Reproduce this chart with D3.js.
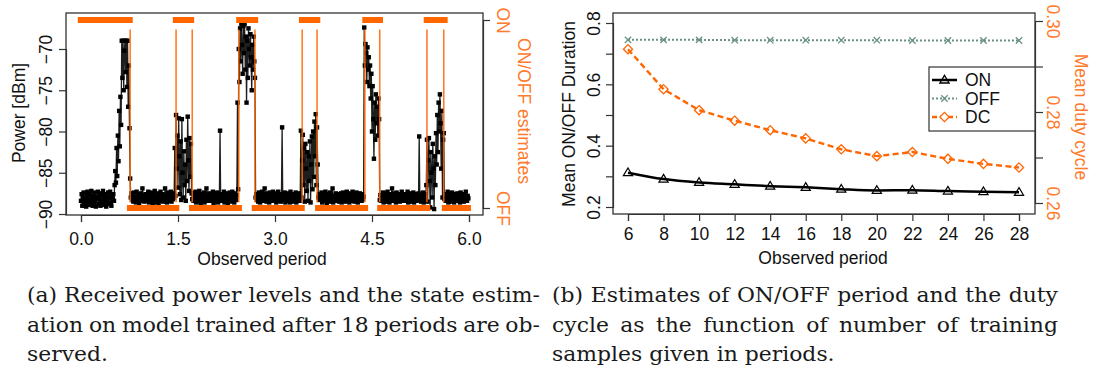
<!DOCTYPE html>
<html>
<head>
<meta charset="utf-8">
<script src="https://cdn.jsdelivr.net/npm/d3@7"></script>
<style>
  body { margin: 0; background: #fff; }
  svg { display: block; }
  text { font-family: "Liberation Sans", Arial, Helvetica, sans-serif; }
</style>
</head>
<body>
<svg id="fig" width="1095" height="370"></svg>
<script>
// ---------------- panel (a): received power trace ----------------
const sampleStep = 0.01;            // observed periods between power samples
const power = [
  -88.4,-87.6,-89.0,-88.1,-87.4,-88.8,-88.3,-87.5,-89.1,-88.0,
  -87.3,-88.7,-88.2,-87.6,-88.9,-88.5,-87.2,-88.1,-89.0,-87.8,
  -88.6,-87.4,-88.3,-89.1,-87.9,-88.2,-87.3,-88.8,-88.0,-87.5,
  -89.0,-88.4,-87.7,-88.6,-87.2,-88.9,-88.1,-87.6,-88.5,-89.1,
  -87.9,-88.3,-87.4,-88.8,-88.0,-87.3,-88.7,-89.0,-87.8,-88.2,

  -87.6,-88.4,-86.5,-84.8,-86.2,-82.0,-85.4,-80.5,-83.6,-77.5,
  -81.8,-75.8,-79.2,-69.0,-73.5,-69.0,-75.0,-70.2,-69.0,-72.8,
  -69.0,-74.6,-69.0,-77.0,-72.0,-79.6,-85.7,-88.0,-87.5,-88.3,
  -87.8,-88.5,-87.4,-88.1,-87.9,-88.6,-87.3,-88.2,-88.0,-87.6,
  -88.7,-87.9,-88.3,-87.5,-88.4,-86.9,-88.1,-87.7,-88.5,-88.0,

  -87.6,-88.4,-87.9,-88.2,-87.3,-88.6,-88.0,-87.7,-88.5,-87.4,
  -88.1,-88.8,-87.6,-88.3,-87.2,-88.0,-88.6,-87.8,-88.2,-87.5,
  -88.7,-87.9,-88.1,-87.3,-88.4,-88.0,-87.6,-88.5,-87.9,-88.2,
  -86.9,-88.3,-87.7,-88.6,-87.4,-88.1,-88.4,-87.6,-88.0,-87.3,
  -88.5,-87.8,-88.2,-87.5,-88.0,-82.0,-87.8,-78.0,-84.5,-80.5,

  -86.8,-78.4,-83.0,-87.6,-81.2,-88.3,-78.5,-85.0,-88.0,-82.4,
  -86.5,-84.0,-88.4,-81.0,-86.0,-78.2,-83.5,-87.2,-80.8,-85.5,
  -81.5,-87.5,-88.2,-87.5,-88.4,-87.9,-88.1,-87.3,-88.6,-87.8,
  -88.2,-87.6,-88.5,-87.2,-88.0,-88.7,-87.6,-88.3,-87.9,-88.1,
  -87.4,-88.6,-87.8,-88.2,-86.9,-88.4,-87.7,-88.0,-87.5,-88.3,

  -87.9,-88.4,-87.6,-88.2,-87.3,-88.7,-88.0,-87.5,-88.5,-87.8,
  -88.1,-87.4,-88.6,-88.0,-87.7,-79.9,-88.2,-87.6,-88.4,-87.9,
  -88.1,-87.3,-88.6,-87.8,-88.3,-87.5,-88.0,-88.7,-87.6,-88.2,
  -87.4,-88.5,-87.9,-88.1,-87.3,-88.4,-87.8,-88.6,-87.5,-88.0,
  -88.3,-87.7,-76.5,-87.0,-70.0,-74.0,-67.5,-71.5,-67.0,-69.5,

  -73.0,-67.2,-70.5,-67.0,-72.5,-68.5,-76.5,-69.0,-73.5,-67.5,
  -70.0,-72.0,-68.2,-71.0,-75.0,-69.5,-72.5,-68.5,-71.5,-73.5,
  -88.0,-87.6,-88.3,-87.9,-88.5,-87.4,-88.1,-88.6,-87.7,-88.2,
  -87.3,-88.0,-88.4,-87.6,-86.9,-88.3,-87.8,-88.5,-87.5,-88.1,
  -87.9,-88.6,-87.4,-88.2,-87.7,-88.0,-88.4,-87.3,-88.1,-87.8,

  -88.2,-87.5,-88.6,-87.9,-88.1,-87.3,-88.4,-87.7,-88.0,-88.5,
  -87.6,-79.5,-88.3,-87.8,-88.1,-87.4,-88.6,-87.9,-88.2,-87.5,
  -88.4,-87.7,-88.0,-88.6,-87.3,-88.2,-87.8,-88.5,-87.6,-88.1,
  -87.9,-88.3,-87.4,-88.6,-87.7,-88.0,-88.2,-87.5,-88.4,-87.9,
  -79.9,-88.0,-83.5,-80.4,-86.5,-82.0,-88.5,-81.5,-84.5,-87.2,

  -82.5,-88.4,-83.0,-86.0,-81.2,-88.6,-84.0,-80.6,-87.0,-80.0,
  -85.5,-78.8,-83.0,-77.9,-86.5,-79.5,-84.0,-88.0,-87.6,-88.3,
  -87.9,-88.1,-87.4,-88.6,-87.8,-88.2,-87.5,-88.4,-87.3,-88.0,
  -88.7,-87.6,-88.2,-87.9,-88.5,-87.4,-88.1,-87.7,-88.3,-86.9,
  -88.6,-87.8,-88.0,-88.4,-87.5,-88.2,-87.9,-88.1,-87.6,-88.5,

  -87.8,-88.3,-87.5,-88.6,-88.0,-87.4,-88.2,-87.9,-88.5,-87.6,
  -88.1,-87.3,-88.4,-87.8,-88.0,-88.6,-87.5,-88.2,-87.7,-88.4,
  -87.3,-88.1,-87.9,-88.5,-87.6,-88.2,-87.4,-88.0,-88.6,-87.8,
  -88.3,-87.5,-88.1,-87.9,-88.4,-87.6,-88.2,-87.9,-67.4,-72.0,
  -69.4,-70.5,-74.0,-69.8,-72.5,-71.0,-74.5,-72.0,-76.0,-73.0,

  -80.0,-74.5,-78.5,-83.3,-76.5,-81.0,-75.5,-79.0,-77.0,-80.5,
  -76.0,-78.5,-88.3,-87.7,-88.4,-87.9,-88.1,-87.4,-88.6,-87.8,
  -88.2,-87.5,-88.0,-88.5,-87.3,-88.3,-87.9,-88.6,-87.6,-88.1,
  -87.8,-86.9,-88.4,-87.5,-88.2,-87.9,-88.0,-88.6,-87.4,-88.3,
  -87.7,-88.1,-87.6,-88.5,-87.9,-88.2,-87.3,-88.0,-88.4,-87.8,

  -88.1,-87.6,-88.4,-87.9,-88.2,-87.3,-88.6,-87.8,-88.0,-88.5,
  -87.5,-88.3,-87.7,-88.1,-87.4,-88.6,-87.9,-88.2,-87.6,-88.4,
  -87.8,-88.0,-87.5,-80.6,-88.3,-87.7,-88.5,-87.9,-88.1,-87.4,
  -88.6,-87.8,-88.2,-87.6,-86.5,-81.0,-88.5,-83.5,-80.8,-86.0,
  -89.2,-82.5,-85.0,-88.0,-81.5,-84.5,-89.4,-83.0,-86.5,-80.2,

  -84.0,-78.0,-82.5,-76.5,-80.0,-75.5,-79.0,-84.5,-77.5,-88.0,
  -81.0,-80.2,-88.2,-87.6,-88.4,-87.9,-88.1,-87.3,-88.6,-87.8,
  -88.2,-87.5,-88.0,-88.5,-87.4,-88.3,-87.9,-88.6,-87.6,-88.1,
  -87.8,-88.4,-87.5,-88.2,-87.9,-88.0,-88.6,-87.4,-88.3,-87.7,
  -88.1,-87.6,-88.5,-87.9,-88.2,-87.3,-88.0,-88.4,-87.8,-88.1
];

// estimated ON / OFF intervals (in observed periods) and state switch instants
const onSegments  = [[-0.05, 0.80], [1.42, 1.75], [2.40, 2.74], [3.37, 3.70], [4.35, 4.67], [5.30, 5.67]];
const offSegments = [[0.71, 1.52], [1.67, 2.49], [2.64, 3.46], [3.62, 4.44], [4.58, 5.40], [5.58, 6.03]];
const switchTimes = [0.76, 1.47, 1.72, 2.44, 2.69, 3.42, 3.65, 4.39, 4.62, 5.35, 5.61];

const powerTicks  = [-90, -85, -80, -75, -70];
const periodTicks = [0, 1.5, 3, 4.5, 6];
const stateLabels = ["OFF", "ON"];

// ---------------- panel (b): estimates vs. training length ----------------
const trainPeriods = [6, 8, 10, 12, 14, 16, 18, 20, 22, 24, 26, 28];
const meanOn   = [0.312, 0.291, 0.280, 0.274, 0.268, 0.264, 0.258, 0.254, 0.255, 0.252, 0.250, 0.248];
const meanOff  = [0.745, 0.745, 0.745, 0.744, 0.744, 0.744, 0.744, 0.744, 0.743, 0.743, 0.743, 0.743];
const dutyCycle = [0.2938, 0.2850, 0.2804, 0.2781, 0.2760, 0.2742, 0.2718, 0.2703, 0.2712, 0.2697, 0.2686, 0.2678];

const durationTicks  = [0.2, 0.3, 0.4, 0.5, 0.6, 0.7, 0.8];
const durationLabels = [0.2, 0.4, 0.6, 0.8];
const dutyTicks  = [0.26, 0.27, 0.28, 0.29, 0.30];
const dutyLabels = [0.26, 0.28, 0.30];
const legendNames = ["ON", "OFF", "DC"];

const captionA = [
  "(a) Received power levels and the state estim-",
  "ation on model trained after 18 periods are ob-",
  "served."
];
const captionB = [
  "(b) Estimates of ON/OFF period and the duty",
  "cycle as the function of number of training",
  "samples given in periods."
];

// ---------------- drawing ----------------
const svg = d3.select("#fig");
const ORANGE = "#ff6600";
const ORANGE_TXT = "#ff7a2b";
const OFF_COL = "#6a9282";
const AXIS_COL = "#333";
const FS = 17.5;

function styleAxis(g) {
  g.selectAll("path.domain").attr("stroke", AXIS_COL).attr("stroke-width", 1.2);
  g.selectAll(".tick line").attr("stroke", AXIS_COL).attr("stroke-width", 1.2);
  g.selectAll("text").attr("font-size", FS).attr("fill", "#111")
    .style("font-family", '"Liberation Sans", Arial, sans-serif');
}
function rotateLabels(g, dx, angle, color) {
  g.selectAll(".tick text")
    .attr("x", null).attr("y", null).attr("dy", null)
    .attr("text-anchor", "middle")
    .attr("transform", `translate(${dx},0) rotate(${angle})`)
    .attr("fill", color || "#111");
}
const near = (arr, v) => arr.some(a => Math.abs(a - v) < 1e-9);

// ===== panel (a) =====
const A = { left: 66, right: 483, top: 13, bottom: 215 };
const xA = d3.scaleLinear().domain([0, 6]).range([81, 469]);
const yA = d3.scaleLinear().domain([-90, -70]).range([214, 49]);
const sA = d3.scaleLinear().domain([0, 1]).range([208, 20]);

const samples = power.map((v, i) => ({ t: i * sampleStep, v }));

const gA = svg.append("g");
gA.append("path")
  .datum(samples)
  .attr("fill", "none")
  .attr("stroke", "#1e1e1e")
  .attr("stroke-width", 1.3)
  .attr("d", d3.line().x(d => xA(d.t)).y(d => yA(d.v)));
gA.append("g").selectAll("rect")
  .data(samples)
  .join("rect")
  .attr("x", d => xA(d.t) - 2.2)
  .attr("y", d => yA(d.v) - 2.2)
  .attr("width", 4.4).attr("height", 4.4)
  .attr("fill", "#000");

// state switches
gA.append("g").selectAll("line")
  .data(switchTimes)
  .join("line")
  .attr("x1", d => xA(d)).attr("x2", d => xA(d))
  .attr("y1", sA(0.95)).attr("y2", sA(0.03))
  .attr("stroke", ORANGE).attr("stroke-width", 1.5).attr("opacity", 0.9);

// ON / OFF estimate bars
gA.append("g").selectAll("rect")
  .data(onSegments)
  .join("rect")
  .attr("x", d => xA(d[0])).attr("width", d => xA(d[1]) - xA(d[0]))
  .attr("y", sA(1) - 3).attr("height", 6)
  .attr("fill", ORANGE);
gA.append("g").selectAll("rect")
  .data(offSegments)
  .join("rect")
  .attr("x", d => xA(d[0])).attr("width", d => xA(d[1]) - xA(d[0]))
  .attr("y", sA(0) - 3).attr("height", 6)
  .attr("fill", ORANGE);

// axes
const axA_b = gA.append("g").attr("transform", `translate(0,${A.bottom})`)
  .call(d3.axisBottom(xA).tickValues(periodTicks).tickFormat(d3.format(".1f")).tickSizeOuter(0).tickSize(7));
styleAxis(axA_b);
axA_b.selectAll(".tick text").attr("y", 30).attr("dy", null);

const axA_l = gA.append("g").attr("transform", `translate(${A.left},0)`)
  .call(d3.axisLeft(yA).tickValues(powerTicks).tickFormat(d3.format("d")).tickSizeOuter(0).tickSize(7));
styleAxis(axA_l);
rotateLabels(axA_l, -14, -90);

const axA_r = gA.append("g").attr("transform", `translate(${A.right},0)`)
  .call(d3.axisRight(sA).tickValues([0, 1]).tickFormat(i => stateLabels[i]).tickSizeOuter(0).tickSize(7));
styleAxis(axA_r);
rotateLabels(axA_r, 14, 90, ORANGE_TXT);

gA.append("rect")
  .attr("x", A.left).attr("y", A.top)
  .attr("width", A.right - A.left).attr("height", A.bottom - A.top)
  .attr("fill", "none").attr("stroke", AXIS_COL).attr("stroke-width", 1.3);

gA.append("text").attr("transform", `translate(262,265)`)
  .attr("text-anchor", "middle").attr("font-size", FS).attr("fill", "#111")
  .text("Observed period");
gA.append("text").attr("transform", `translate(25,113) rotate(-90)`)
  .attr("text-anchor", "middle").attr("font-size", FS).attr("fill", "#111")
  .text("Power [dBm]");
gA.append("text").attr("transform", `translate(518,111) rotate(90)`)
  .attr("text-anchor", "middle").attr("font-size", FS).attr("fill", ORANGE_TXT)
  .text("ON/OFF estimates");

// ===== panel (b) =====
const B = { left: 613, right: 1035, top: 13, bottom: 214 };
const xB = d3.scaleLinear().domain([6, 28]).range([628, 1019]);
const yB = d3.scaleLinear().domain([0.2, 0.8]).range([207, 23]);
const yD = d3.scaleLinear().domain([0.26, 0.30]).range([203, 21]);

const gB = svg.append("g");

const seriesOn  = trainPeriods.map((p, i) => ({ p, v: meanOn[i] }));
const seriesOff = trainPeriods.map((p, i) => ({ p, v: meanOff[i] }));
const seriesDc  = trainPeriods.map((p, i) => ({ p, v: dutyCycle[i] }));

const triPath = "M0,-4.7L4.6,3L-4.6,3Z";
const diaPath = "M0,-4.6L4.6,0L0,4.6L-4.6,0Z";
const crossPath = "M-3.2,-3.2L3.2,3.2M-3.2,3.2L3.2,-3.2";

// OFF (dotted, crosses)
gB.append("path").datum(seriesOff)
  .attr("fill", "none").attr("stroke", OFF_COL).attr("stroke-width", 2)
  .attr("stroke-dasharray", "2,2")
  .attr("d", d3.line().x(d => xB(d.p)).y(d => yB(d.v)));
gB.append("g").selectAll("path").data(seriesOff).join("path")
  .attr("transform", d => `translate(${xB(d.p)},${yB(d.v)})`)
  .attr("d", crossPath).attr("stroke", OFF_COL).attr("stroke-width", 1.3).attr("fill", "none");

// duty cycle (dashed, diamonds) on the right axis
gB.append("path").datum(seriesDc)
  .attr("fill", "none").attr("stroke", ORANGE).attr("stroke-width", 2.4)
  .attr("stroke-dasharray", "6,3.5")
  .attr("d", d3.line().x(d => xB(d.p)).y(d => yD(d.v)));
gB.append("g").selectAll("path").data(seriesDc).join("path")
  .attr("transform", d => `translate(${xB(d.p)},${yD(d.v)})`)
  .attr("d", diaPath).attr("stroke", ORANGE).attr("stroke-width", 1.3).attr("fill", "none");

// ON (solid, triangles)
gB.append("path").datum(seriesOn)
  .attr("fill", "none").attr("stroke", "#000").attr("stroke-width", 2.5)
  .attr("d", d3.line().curve(d3.curveMonotoneX).x(d => xB(d.p)).y(d => yB(d.v)));
gB.append("g").selectAll("path").data(seriesOn).join("path")
  .attr("transform", d => `translate(${xB(d.p)},${yB(d.v)})`)
  .attr("d", triPath).attr("stroke", "#000").attr("stroke-width", 1.2).attr("fill", "none");

// axes
const axB_b = gB.append("g").attr("transform", `translate(0,${B.bottom})`)
  .call(d3.axisBottom(xB).tickValues(trainPeriods).tickFormat(d3.format("d")).tickSizeOuter(0).tickSize(7));
styleAxis(axB_b);
axB_b.selectAll(".tick text").attr("y", 26).attr("dy", null);

const axB_l = gB.append("g").attr("transform", `translate(${B.left},0)`)
  .call(d3.axisLeft(yB).tickValues(durationTicks)
    .tickFormat(d => near(durationLabels, d) ? d3.format(".1f")(d) : "")
    .tickSizeOuter(0).tickSize(7));
styleAxis(axB_l);
rotateLabels(axB_l, -13, -90);

const axB_r = gB.append("g").attr("transform", `translate(${B.right},0)`)
  .call(d3.axisRight(yD).tickValues(dutyTicks)
    .tickFormat(d => near(dutyLabels, d) ? d3.format(".2f")(d) : "")
    .tickSizeOuter(0).tickSize(8));
styleAxis(axB_r);
rotateLabels(axB_r, 12, 90, ORANGE_TXT);

gB.append("rect")
  .attr("x", B.left).attr("y", B.top)
  .attr("width", B.right - B.left).attr("height", B.bottom - B.top)
  .attr("fill", "none").attr("stroke", AXIS_COL).attr("stroke-width", 1.3);

gB.append("text").attr("transform", `translate(823,264)`)
  .attr("text-anchor", "middle").attr("font-size", FS).attr("fill", "#111")
  .text("Observed period");
gB.append("text").attr("transform", `translate(575,114) rotate(-90)`)
  .attr("text-anchor", "middle").attr("font-size", FS).attr("fill", "#111")
  .text("Mean ON/OFF Duration");
gB.append("text").attr("transform", `translate(1075,117) rotate(90)`)
  .attr("text-anchor", "middle").attr("font-size", FS).attr("fill", ORANGE_TXT)
  .text("Mean duty cycle");

// legend
const legend = gB.append("g").attr("transform", "translate(929,67)");
legend.append("rect").attr("width", 106).attr("height", 64)
  .attr("fill", "#fff").attr("stroke", AXIS_COL).attr("stroke-width", 1.2);
const legendStyle = [
  { stroke: "#000", width: 2.5, dash: null, mark: triPath },
  { stroke: OFF_COL, width: 2, dash: "2,2", mark: crossPath },
  { stroke: ORANGE, width: 2.4, dash: "5,3", mark: diaPath }
];
legendNames.forEach((name, i) => {
  const st = legendStyle[i];
  const row = legend.append("g").attr("transform", `translate(0,${13 + i * 18.5})`);
  row.append("line").attr("x1", 3).attr("x2", 28)
    .attr("stroke", st.stroke).attr("stroke-width", st.width)
    .attr("stroke-dasharray", st.dash);
  row.append("path").attr("transform", "translate(15.5,0)").attr("d", st.mark)
    .attr("stroke", st.stroke).attr("stroke-width", 1.3).attr("fill", i === 0 ? "none" : "#fff");
  row.append("text").attr("x", 36).attr("dy", "0.36em")
    .attr("font-size", FS).attr("fill", "#111").text(name);
});

// ---------------- captions (justified serif text) ----------------
const SERIF = '"DejaVu Serif", "Liberation Serif", serif';
const CAP_FS = 20;
function textWidth(str) {
  const t = svg.append("text").attr("font-size", CAP_FS).style("font-family", SERIF).text(str);
  const w = t.node().getComputedTextLength();
  t.remove();
  return w;
}
const capSx = 513 / textWidth(captionA[0]);

function drawCaption(lines, x0, x1, baselines) {
  lines.forEach((line, li) => {
    const g = svg.append("g")
      .attr("transform", `translate(${x0},${baselines[li]}) scale(${capSx},1)`)
      .attr("fill", "#1a1a1a").attr("font-size", CAP_FS);
    const last = li === lines.length - 1;
    if (last) {
      g.append("text").style("font-family", SERIF).text(line);
      return;
    }
    const words = line.split(" ");
    const widths = words.map(textWidth);
    const span = (x1 - x0) / capSx;
    const gap = (span - d3.sum(widths)) / (words.length - 1);
    let cx = 0;
    words.forEach((w, wi) => {
      g.append("text").attr("x", cx).style("font-family", SERIF).text(w);
      cx += widths[wi] + gap;
    });
  });
}
drawCaption(captionA, 27, 540, [302, 332, 361]);
drawCaption(captionB, 552, 1058, [302, 332, 361]);
</script>
</body>
</html>
